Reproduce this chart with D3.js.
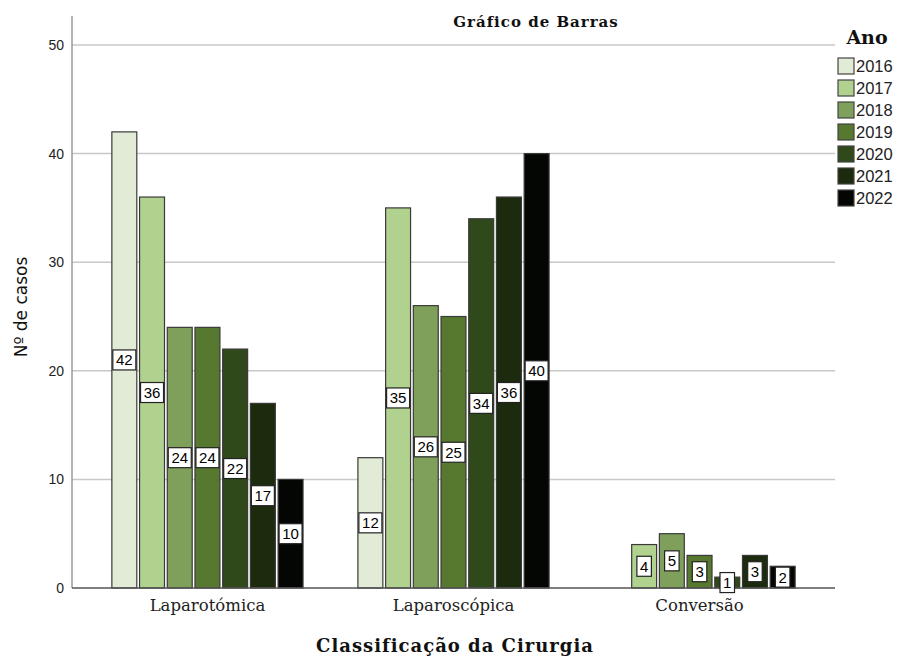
<!DOCTYPE html>
<html>
<head>
<meta charset="utf-8">
<script src="https://cdn.jsdelivr.net/npm/d3@7"></script>
<style>
  body { margin: 0; background: #fff; }
  svg { display: block; }
</style>
</head>
<body>
<svg id="chart" width="898" height="657"></svg>
<script>
const categories = ["Laparotómica", "Laparoscópica", "Conversão"];
const years = ["2016", "2017", "2018", "2019", "2020", "2021", "2022"];
const values2016 = [42, 12, 0];
const values2017 = [36, 35, 4];
const values2018 = [24, 26, 5];
const values2019 = [24, 25, 3];
const values2020 = [22, 34, 1];
const values2021 = [17, 36, 3];
const values2022 = [10, 40, 2];
const colors = ["#e1ebd5", "#b1d18f", "#7fa05b", "#56782f", "#30491a", "#1c2a0d", "#030602"];
const yTicks = [0, 10, 20, 30, 40, 50];

(function () {
const series = [values2016, values2017, values2018, values2019, values2020, values2021, values2022];

const svg = d3.select("#chart");
const mLeft = 72, mRight = 835, mTop = 16, mBottom = 588;

const y = d3.scaleLinear().domain([0, 50]).range([mBottom, 45]);
const x0 = d3.scaleBand().domain(categories).range([mLeft, mRight]).paddingInner(0.223).paddingOuter(0.162);
const x1 = d3.scaleBand().domain(years).range([0, x0.bandwidth()]).paddingInner(0.1).paddingOuter(0);
const color = d3.scaleOrdinal().domain(years).range(colors);

// gridlines
svg.append("g").selectAll("line").data(yTicks.filter(d => d > 0)).join("line")
  .attr("x1", mLeft).attr("x2", mRight)
  .attr("y1", d => y(d)).attr("y2", d => y(d))
  .attr("stroke", "#c8c8c8").attr("stroke-width", 1.5);

// y axis
const yAxis = d3.axisLeft(y).tickValues(yTicks).tickSize(0).tickPadding(8);
const gy = svg.append("g").attr("transform", `translate(${mLeft},0)`).call(yAxis);
gy.select(".domain").remove();
gy.selectAll("text").attr("font-family", "Liberation Sans, Arial, sans-serif").attr("font-size", 14).attr("fill", "#222");
svg.append("line").attr("x1", mLeft).attr("x2", mLeft).attr("y1", mTop).attr("y2", mBottom)
  .attr("stroke", "#9a9a9a").attr("stroke-width", 1.5);

// data
const data = [];
categories.forEach((c, ci) => {
  years.forEach((yr, yi) => {
    data.push({ cat: c, year: yr, value: series[yi][ci] });
  });
});

const bars = data.filter(d => d.value > 0);
svg.append("g").selectAll("rect").data(bars).join("rect")
  .attr("x", d => x0(d.cat) + x1(d.year))
  .attr("width", x1.bandwidth())
  .attr("y", d => y(d.value))
  .attr("height", d => y(0) - y(d.value))
  .attr("fill", d => color(d.year))
  .attr("stroke", "#3a3a3a").attr("stroke-width", 1.2);

// baseline
svg.append("line").attr("x1", mLeft).attr("x2", mRight).attr("y1", mBottom).attr("y2", mBottom)
  .attr("stroke", "#555").attr("stroke-width", 1.5);

// value labels
const lg = svg.append("g").selectAll("g").data(bars).join("g")
  .attr("transform", d => `translate(${x0(d.cat) + x1(d.year) + x1.bandwidth() / 2},${(y(d.value) + y(0)) / 2})`);
lg.append("rect")
  .attr("x", d => -(String(d.value).length * 8.5 + 6) / 2)
  .attr("width", d => String(d.value).length * 8.5 + 6)
  .attr("y", -10).attr("height", 20)
  .attr("fill", "#fff").attr("stroke", "#222").attr("stroke-width", 1.2);
lg.append("text").text(d => d.value)
  .attr("text-anchor", "middle").attr("dy", "0.36em")
  .attr("font-family", "Liberation Sans, Arial, sans-serif").attr("font-size", 15).attr("fill", "#000");

// x axis labels
const xAxis = d3.axisBottom(x0).tickSize(0).tickPadding(11);
const gx = svg.append("g").attr("transform", `translate(0,${mBottom})`).call(xAxis);
gx.select(".domain").remove();
gx.selectAll("text").attr("font-family", "DejaVu Serif, serif").attr("font-size", 16.5).attr("fill", "#222");

// title
svg.append("text").attr("x", 536).attr("y", 27).attr("text-anchor", "middle")
  .attr("font-family", "DejaVu Serif, serif").attr("font-weight", "bold").attr("font-size", 15)
  .attr("letter-spacing", 1).attr("fill", "#111").text("Gráfico de Barras");

// axis titles
svg.append("text").attr("x", 455).attr("y", 652).attr("text-anchor", "middle")
  .attr("font-family", "DejaVu Serif, serif").attr("font-weight", "bold").attr("font-size", 18)
  .attr("letter-spacing", 1).attr("fill", "#111").text("Classificação da Cirurgia");
svg.append("text").attr("transform", "translate(27,307) rotate(-90)").attr("text-anchor", "middle")
  .attr("font-family", "DejaVu Sans, Verdana, sans-serif").attr("font-size", 17)
  .attr("fill", "#111").text("Nº de casos");

// legend
svg.append("text").attr("x", 867).attr("y", 44).attr("text-anchor", "middle")
  .attr("font-family", "DejaVu Serif, serif").attr("font-weight", "bold").attr("font-size", 19)
  .attr("fill", "#111").text("Ano");
const leg = svg.append("g").selectAll("g").data(years).join("g")
  .attr("transform", (d, i) => `translate(838,${58 + i * 22})`);
leg.append("rect").attr("width", 16).attr("height", 16)
  .attr("fill", d => color(d)).attr("stroke", "#444").attr("stroke-width", 1.2);
leg.append("text").attr("x", 18).attr("y", 8).attr("dy", "0.36em").text(d => d)
  .attr("font-family", "Liberation Sans, Arial, sans-serif").attr("font-size", 16.5).attr("fill", "#222");
})();
</script>
</body>
</html>
